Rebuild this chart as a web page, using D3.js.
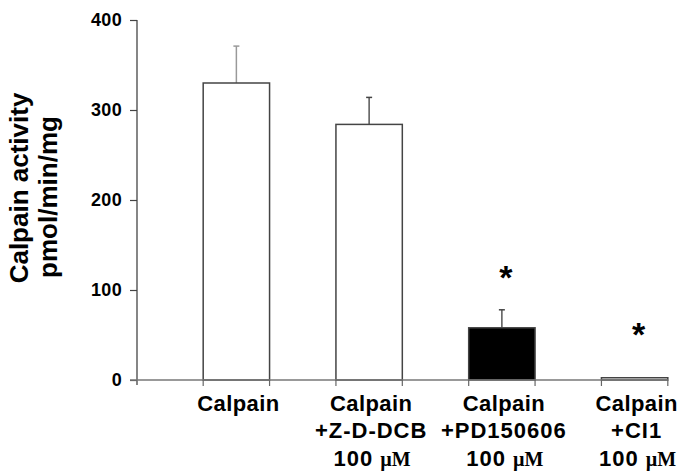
<!DOCTYPE html>
<html>
<head>
<meta charset="utf-8">
<script src="https://cdn.jsdelivr.net/npm/d3@7"></script>
<style>
  html, body { margin: 0; padding: 0; background: #fff; }
  svg { display: block; }
  text { font-family: "Liberation Sans", Arial, sans-serif; font-weight: bold; fill: #000; }
</style>
</head>
<body>
<svg id="chart" width="682" height="475"></svg>
<script>
// ---- data ----
const categories = ["Calpain", "Calpain+Z-D-DCB", "Calpain+PD150606", "Calpain+CI1"];
const labelLine1 = ["Calpain", "Calpain", "Calpain", "Calpain"];
const labelLine2 = ["", "+Z-D-DCB", "+PD150606", "+CI1"];
const labelLine3 = ["", "100", "100", "100"];
const values = [330, 284, 58, 2.5];
const errors = [41, 30, 20, 0];
const fills = ["#fff", "#fff", "#000", "#fff"];
const significant = [false, false, true, true];
const starLevels = [0, 0, 122, 59];
const yTicks = [0, 100, 200, 300, 400];

// ---- layout ----
const svg = d3.select("#chart");
const axisX = 137, axisRight = 668;
const y = d3.scaleLinear().domain([0, 400]).range([380, 20]);
const x = d3.scaleBand().domain(categories).range([170, 701]).paddingInner(0).paddingOuter(0);
const barW = x.bandwidth() / 2;
const cx = d => x(d) + x.bandwidth() / 2;

// y axis
const yAxis = d3.axisLeft(y).tickValues(yTicks).tickSize(7).tickPadding(8).tickFormat(d3.format("d"));
const gy = svg.append("g").attr("transform", `translate(${axisX},0)`).call(yAxis);
gy.select(".domain").attr("d", `M0,${y(400)}V${y(0) + 5}`).attr("stroke", "#444").attr("stroke-width", 1.3);
gy.selectAll(".tick line").attr("stroke", "#444").attr("stroke-width", 1.2);
gy.selectAll(".tick text").attr("font-size", 18).attr("font-family", "Liberation Sans, Arial, sans-serif")
  .attr("font-weight", "bold").attr("fill", "#000").attr("letter-spacing", 0.3);

// bars
const bars = svg.append("g");
categories.forEach((c, i) => {
  const x0 = cx(c) - barW / 2;
  if (errors[i] > 0) {
    bars.append("line")
      .attr("x1", cx(c)).attr("x2", cx(c))
      .attr("y1", y(values[i])).attr("y2", y(values[i] + errors[i]))
      .attr("stroke", i === 0 ? "#999" : "#555").attr("stroke-width", 1.5);
    bars.append("line")
      .attr("x1", cx(c) - 3).attr("x2", cx(c) + 3)
      .attr("y1", y(values[i] + errors[i])).attr("y2", y(values[i] + errors[i]))
      .attr("stroke", i === 0 ? "#999" : "#444").attr("stroke-width", 1.5);
  }
  bars.append("rect")
    .attr("x", x0).attr("y", y(values[i]))
    .attr("width", barW).attr("height", y(0) - y(values[i]))
    .attr("fill", fills[i]).attr("stroke", "#444").attr("stroke-width", 1.5);
});

// x axis line and ticks
svg.append("line").attr("x1", axisX - 7).attr("x2", axisRight)
  .attr("y1", y(0)).attr("y2", y(0)).attr("stroke", "#777").attr("stroke-width", 1.5);
categories.forEach(c => {
  [cx(c) - barW / 2, cx(c) + barW / 2].forEach(px => {
    svg.append("line").attr("x1", px).attr("x2", px)
      .attr("y1", y(0)).attr("y2", y(0) + 6).attr("stroke", "#666").attr("stroke-width", 1.2);
  });
});

// x labels
const lab = svg.append("g");
categories.forEach((c, i) => {
  lab.append("text").attr("x", cx(c) + 2).attr("y", 411).attr("text-anchor", "middle")
    .attr("font-size", 22).attr("letter-spacing", 0.4).text(labelLine1[i]);
  if (labelLine2[i]) {
    lab.append("text").attr("x", cx(c) + 2).attr("y", 438).attr("text-anchor", "middle")
      .attr("font-size", 22).attr("letter-spacing", 1).text(labelLine2[i]);
  }
  if (labelLine3[i]) {
    const t = lab.append("text").attr("x", cx(c) + 3).attr("y", 466).attr("text-anchor", "middle")
      .attr("font-size", 22);
    t.append("tspan").attr("letter-spacing", 1).text(labelLine3[i] + " ");
    t.append("tspan").attr("font-family", "Liberation Serif, 'Times New Roman', serif")
      .attr("font-size", 20).text("µM");
  }
});

// significance stars
categories.forEach((c, i) => {
  if (significant[i]) {
    svg.append("text").attr("x", cx(c) + 4).attr("y", y(starLevels[i]) + 19)
      .attr("text-anchor", "middle").attr("font-size", 34).attr("font-weight", "normal").text("*");
  }
});

// y title
svg.append("text").attr("transform", "translate(28,188) rotate(-90)")
  .attr("text-anchor", "middle").attr("font-size", 26).text("Calpain activity");
svg.append("text").attr("transform", "translate(57,197) rotate(-90)")
  .attr("text-anchor", "middle").attr("font-size", 26).text("pmol/min/mg");
</script>
</body>
</html>
